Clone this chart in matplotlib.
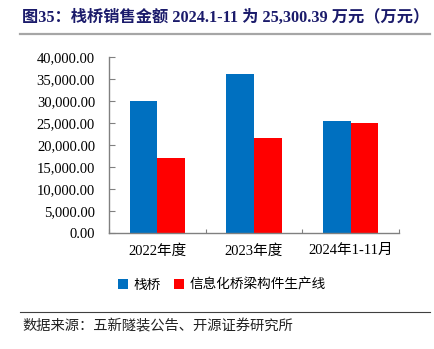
import matplotlib
matplotlib.use("Agg")
import matplotlib.pyplot as plt
import numpy as np
from matplotlib.ticker import FuncFormatter, FixedLocator

categories = ["2022年度", "2023年度", "2024年1-11月"]
trestle = [30000.0, 36000.0, 25300.39]
info_line = [16950.0, 21480.0, 25050.0]
series_names = ["栈桥", "信息化桥梁构件生产线"]
yticks = [0, 5000, 10000, 15000, 20000, 25000, 30000, 35000, 40000]

title = "图35：栈桥销售金额 2024.1-11 为 25,300.39 万元（万元）"
source = "数据来源：五新隧装公告、开源证券研究所"

SERIF = ["Liberation Serif", "Noto Sans CJK SC"]
CJK = ["Noto Sans CJK SC", "DejaVu Sans"]
BLUE = "#0070C0"
RED = "#FF0000"
AXIS_GREY = "#808080"

fig = plt.figure(figsize=(4.35, 3.49), dpi=100, facecolor="white")
ax = fig.add_axes([109 / 435, 1 - 233 / 349, 290 / 435, 176.3 / 349])

x = np.arange(len(categories))
w = 0.286
ax.bar(x - w / 2, trestle, width=w, color=BLUE, label=series_names[0])
ax.bar(x + w / 2, info_line, width=w, color=RED, label=series_names[1])

ax.set_xlim(-0.5, len(categories) - 0.5)
ax.set_ylim(0, 40000)
ax.set_yticks(yticks)
ax.yaxis.set_major_formatter(FuncFormatter(lambda v, _: f"{v:,.2f}"))

# category labels centred, ticks on the boundaries
ax.xaxis.set_major_locator(FixedLocator(np.arange(len(categories) + 1) - 0.5))
ax.xaxis.set_minor_locator(FixedLocator(x))
ax.set_xticklabels([], minor=False)
ax.set_xticklabels(categories, minor=True, family=SERIF, fontsize=10.5)
ax.tick_params(axis="x", which="minor", length=0, pad=8)
ax.tick_params(axis="x", which="major", direction="in", length=3, color=AXIS_GREY)
ax.tick_params(axis="y", direction="in", length=4, color=AXIS_GREY, pad=10)
for lbl in ax.get_yticklabels():
    lbl.set_family(SERIF)
    lbl.set_fontsize(10.5)

for side in ["top", "right"]:
    ax.spines[side].set_visible(False)
for side in ["left", "bottom"]:
    ax.spines[side].set_color(AXIS_GREY)
    ax.spines[side].set_linewidth(1.0)

leg = fig.legend(loc="center left", bbox_to_anchor=(106 / 435, 1 - 285 / 349), ncol=2,
                 frameon=False, handlelength=0.7, handleheight=0.7, handletextpad=0.4,
                 columnspacing=1.0, prop={"family": CJK, "size": 9.8})

fig.text(22 / 435, 1 - 18 / 349, title, family=SERIF, fontweight="bold", fontsize=11.7,
         color="#1b1b6b", va="center", ha="left")
fig.add_artist(plt.Line2D([20 / 435, 430 / 435], [1 - 33.5 / 349] * 2, color="#a6a6a6", linewidth=1.6))
fig.add_artist(plt.Line2D([20 / 435, 430 / 435], [1 - 312 / 349] * 2, color="#404040", linewidth=0.8))
fig.text(22 / 435, 1 - 326 / 349, source, family=CJK, fontsize=10.3, color="#222222",
         va="center", ha="left")

fig.savefig("out.png", dpi=100, facecolor="white")
